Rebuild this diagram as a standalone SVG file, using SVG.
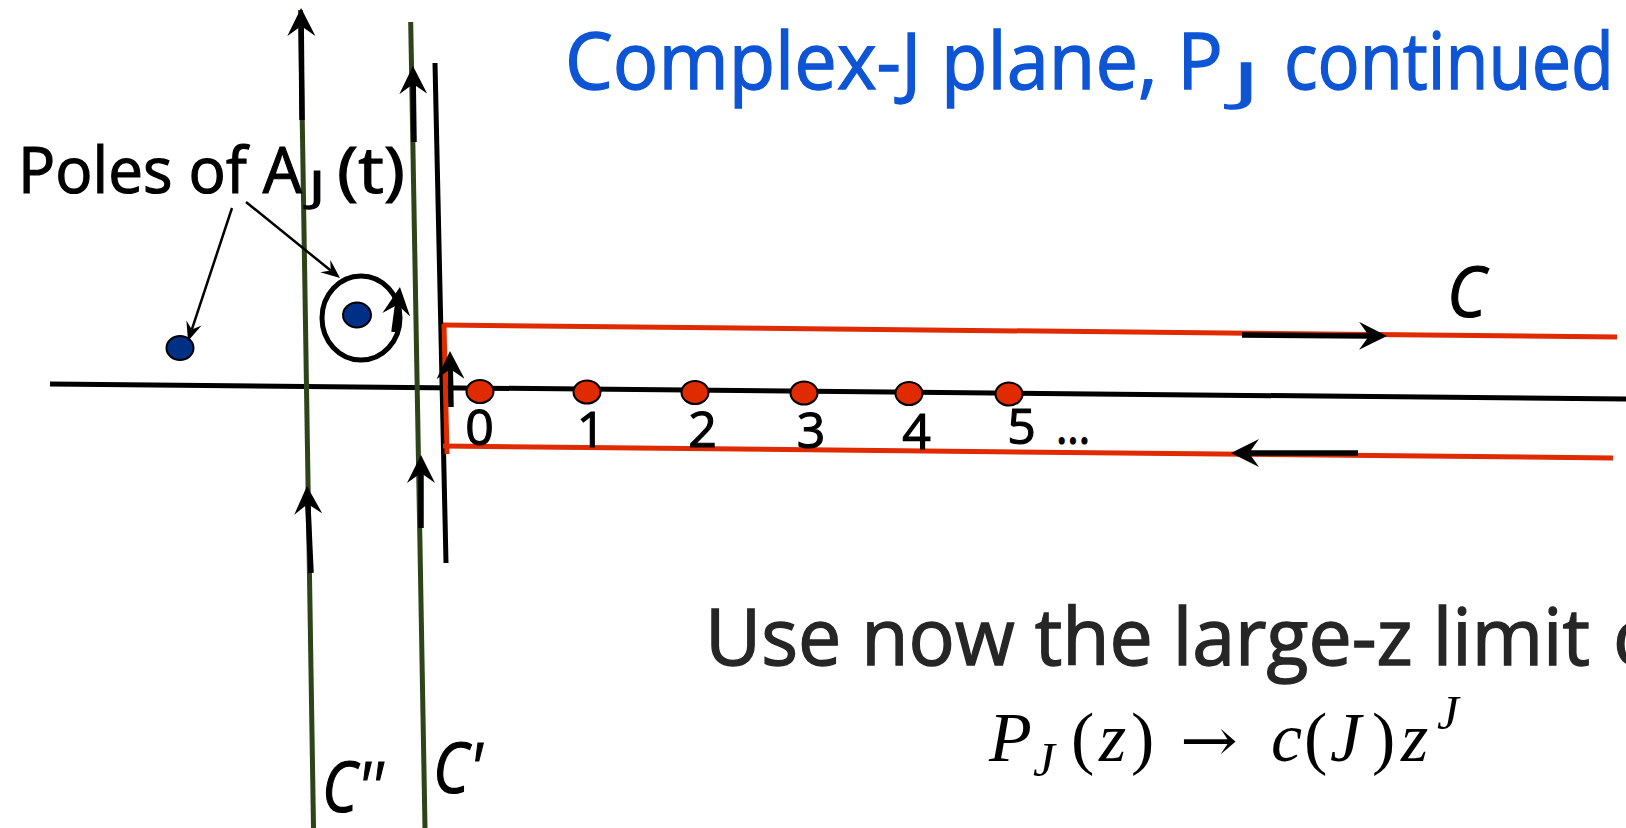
<svg xmlns="http://www.w3.org/2000/svg" width="1626" height="828" viewBox="0 0 1626 828">
  <defs>
    <marker id="ah" markerUnits="userSpaceOnUse" markerWidth="28" markerHeight="28" viewBox="0 0 28 28" refX="10" refY="14" orient="auto">
      <path d="M28,14 L0,0 L10,14 L0,28 Z" fill="#000"/>
    </marker>
    <marker id="ahs" markerUnits="userSpaceOnUse" markerWidth="19" markerHeight="16" viewBox="0 0 19 16" refX="7" refY="8" orient="auto">
      <path d="M19,8 L0,0 L7,8 L0,16 Z" fill="#000"/>
    </marker>
    <style>
      .hand { font-family: "Open Sans", "DejaVu Sans", sans-serif; }
      .title { fill: #0d55d5; stroke: #0d55d5; stroke-width: 1.3; font-size: 78px; }
      .black { fill: #000; stroke: #000; stroke-width: 1.2; }
      .dark { fill: #262626; stroke: #262626; stroke-width: 1.4; }
      .digit { font-size: 50px; fill: #000; stroke: #000; stroke-width: 1.2; text-anchor: middle; }
      .math { font-family: "Liberation Serif", "DejaVu Serif", serif; font-size: 70px; fill: #000; }
      .it { font-style: italic; }
      .green { stroke: #2d4418; stroke-width: 5; fill: none; }
      .red { stroke: #e02a00; stroke-width: 5; fill: none; }
      .axis { stroke: #000; stroke-width: 5; fill: none; }
      .arrow { stroke: #000; stroke-width: 5.5; fill: none; marker-end: url(#ah); }
      .thin { stroke: #000; stroke-width: 2.5; fill: none; marker-end: url(#ahs); }
      .pole { fill: #002f86; stroke: #000; stroke-width: 2; }
      .dot { fill: #e02a00; stroke: #000; stroke-width: 2; }
    </style>
  </defs>

  <g id="title">
    <text class="hand title" y="89"><tspan x="565" textLength="658" lengthAdjust="spacingAndGlyphs">Complex-J plane, P</tspan><tspan x="1233" y="100" font-size="52" textLength="26" lengthAdjust="spacingAndGlyphs">J</tspan><tspan x="1284" y="89" textLength="330" lengthAdjust="spacingAndGlyphs">continued</tspan></text>
  </g>

  <g id="axes">
    <line class="axis" x1="50" y1="384" x2="1626" y2="399"/>
    <line class="green" x1="300.5" y1="10" x2="313.5" y2="828"/>
    <line class="green" x1="410.7" y1="22" x2="425" y2="828"/>
    <line class="axis" x1="435" y1="63" x2="446" y2="563"/>
  </g>

  <g id="contour-C">
    <line class="red" x1="443" y1="325" x2="1617" y2="337"/>
    <line class="red" x1="444" y1="324" x2="447" y2="454"/>
    <line class="red" x1="443" y1="446" x2="1613" y2="458"/>
  </g>

  <g id="poles-label">
    <text class="hand black" font-size="64" y="193"><tspan x="18" textLength="284" lengthAdjust="spacingAndGlyphs">Poles of A</tspan><tspan x="309" y="201" font-size="42" textLength="16" lengthAdjust="spacingAndGlyphs">J</tspan><tspan x="337" y="193" textLength="68" lengthAdjust="spacingAndGlyphs">(t)</tspan></text>
  </g>

  <g id="pole-1">
    <ellipse class="pole" cx="180" cy="348" rx="13.5" ry="12"/>
  </g>
  <g id="pole-2">
    <ellipse class="pole" cx="357" cy="315" rx="14" ry="12.5"/>
    <ellipse cx="361" cy="318" rx="39" ry="42" fill="none" stroke="#000" stroke-width="5"/>
  </g>

  <g id="integer-points">
    <ellipse class="dot" cx="480" cy="391.5" rx="13.5" ry="11.5"/>
    <ellipse class="dot" cx="587" cy="392" rx="13.5" ry="11.5"/>
    <ellipse class="dot" cx="695" cy="392.5" rx="13.5" ry="11.5"/>
    <ellipse class="dot" cx="804" cy="393" rx="13.5" ry="11.5"/>
    <ellipse class="dot" cx="909" cy="393.5" rx="13.5" ry="11.5"/>
    <ellipse class="dot" cx="1009" cy="394" rx="13.5" ry="11.5"/>
    <text class="hand digit" x="479.5" y="445">0</text>
    <text class="hand digit" x="591" y="447">1</text>
    <text class="hand digit" x="702.5" y="447">2</text>
    <text class="hand digit" x="811" y="448">3</text>
    <text class="hand digit" x="916.5" y="449">4</text>
    <text class="hand digit" x="1021.5" y="444">5</text>
    <text class="hand black" font-size="50" x="1056" y="444" textLength="34" lengthAdjust="spacingAndGlyphs">...</text>
  </g>

  <g id="labels">
    <text class="hand black it" font-size="70" stroke-width="2" x="1447" y="317" textLength="39" lengthAdjust="spacingAndGlyphs">C</text>
    <text class="hand black it" font-size="70" stroke-width="2" x="322" y="812" textLength="61" lengthAdjust="spacingAndGlyphs">C''</text>
    <text class="hand black it" font-size="70" stroke-width="2" x="433" y="793" textLength="49" lengthAdjust="spacingAndGlyphs">C'</text>
  </g>

  <g id="connectors">
    <line class="arrow" x1="302" y1="120" x2="301.2" y2="26"/>
    <line class="arrow" x1="414" y1="142" x2="413.2" y2="84"/>
    <line class="arrow" x1="311" y1="573" x2="307.8" y2="504"/>
    <line class="arrow" x1="421" y1="528" x2="421" y2="473"/>
    <line class="arrow" x1="451" y1="407" x2="450.3" y2="369"/>
    <line class="arrow" x1="394" y1="332" x2="397.6" y2="304.8"/>
    <line class="arrow" x1="1242" y1="335" x2="1369" y2="335.9"/>
    <line class="arrow" x1="1358" y1="453" x2="1249" y2="453"/>
    <line class="thin" x1="232" y1="208" x2="191.8" y2="329.6"/>
    <line class="thin" x1="246" y1="202" x2="330.7" y2="270.5"/>
  </g>

  <g id="caption">
    <text class="hand dark" font-size="78" y="665"><tspan x="705" textLength="885" lengthAdjust="spacingAndGlyphs">Use now the large-z limit</tspan><tspan x="1613">o</tspan></text>
  </g>

  <g id="formula">
    <text class="math" y="761"><tspan class="it" x="989">P</tspan><tspan class="it" x="1033" y="776" font-size="49">J</tspan><tspan x="1071" y="761">(</tspan><tspan class="it" x="1099">z</tspan><tspan x="1131">)</tspan><tspan x="1180" font-family="DejaVu Serif" font-size="60" textLength="58" lengthAdjust="spacingAndGlyphs">→</tspan><tspan class="it" x="1271">c</tspan><tspan x="1304">(</tspan><tspan class="it" x="1330">J</tspan><tspan x="1372">)</tspan><tspan class="it" x="1401">z</tspan><tspan class="it" x="1437" y="729" font-size="49">J</tspan></text>
  </g>
</svg>
